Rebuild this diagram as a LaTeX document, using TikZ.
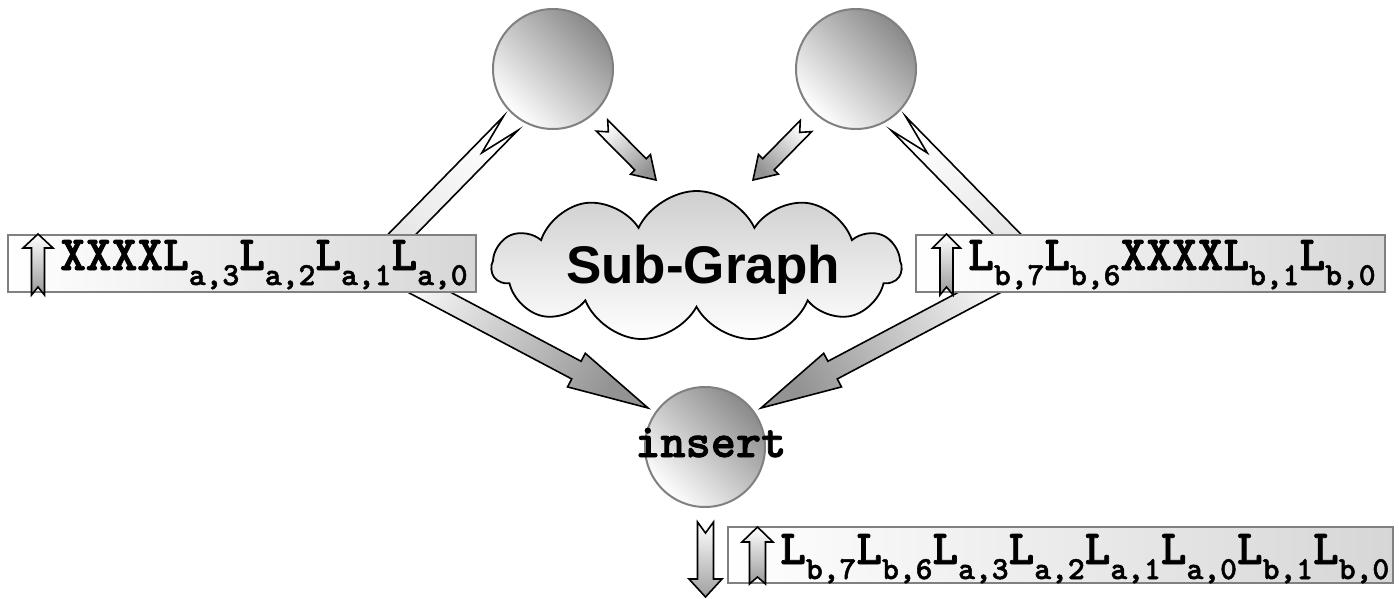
\documentclass[tikz,border=0pt]{standalone}
\usepackage{fontspec}
\newfontfamily\cour{lmmonolt10-bold.otf}[FakeBold=1.6]
\newfontfamily\helv{Liberation Sans}
\usetikzlibrary{shapes.symbols,calc}

\definecolor{rimgray}{HTML}{808080}
\definecolor{deepgray}{HTML}{8A8A8A}

% subscript of a register label
\newcommand\sbx[1]{\raisebox{-15pt}{\fontsize{32}{32}\selectfont #1}}

% notched block arrow with a head:
% #1 tail, #2 tip, #3 half shaft, #4 half head, #5 head length, #6 notch depth,
% #7 tail colour, #8 head colour, #9 shading angle
\newcommand\blockarrow[9]{%
  \coordinate (hb) at ($(#2)!#5!(#1)$);
  \path[arrowline, left color=#7, right color=#8, shading angle=#9]
    ($(#1)!#3!90:(#2)$) -- ($(hb)!#3!90:(#2)$) -- ($(hb)!#4!90:(#2)$) -- (#2)
    -- ($(hb)!#4!-90:(#2)$) -- ($(hb)!#3!-90:(#2)$) -- ($(#1)!#3!-90:(#2)$)
    -- ($(#1)!#6!(#2)$) -- cycle;}

% notched bar without a head: #1 tail, #2 end, #3 half width, #4 notch depth,
% #5 tail colour, #6 end colour, #7 shading angle
\newcommand\notchbar[7]{%
  \path[arrowline, left color=#5, right color=#6, shading angle=#7]
    ($(#1)!#3!90:(#2)$) -- ($(#2)!#3!-90:(#1)$) -- ($(#2)!#3!90:(#1)$)
    -- ($(#1)!#3!-90:(#2)$) -- ($(#1)!#4!(#2)$) -- cycle;}

\begin{document}
\begin{tikzpicture}[x=1pt, y=1pt,
  arrowline/.style={draw=black, line width=1.6pt, line join=miter},
  sphere/.style={circle, draw=rimgray, line width=2pt, minimum size=120pt,
    inner sep=0pt, left color=white, right color=deepgray, shading angle=135},
  regbox/.style={rectangle, draw=rimgray, line width=2pt, inner sep=0pt,
    left color=white, right color=gray!32, minimum height=57pt},
  regtext/.style={anchor=base west, inner sep=0pt, font=\cour\fontsize{49}{49}\selectfont},
  subcloud/.style={cloud, draw=black, line width=1.8pt, cloud puffs=11,
    cloud puff arc=130, aspect=2.7, inner sep=0pt, minimum width=409pt,
    minimum height=151pt, top color=gray!38, bottom color=white}]
\useasboundingbox (0,0) rectangle (1399,598);

% anchor points of the connectors
\coordinate (ta) at (510.5,474.5);
\coordinate (ba) at (374,335);
\coordinate (ha) at (648,190);
\coordinate (tb) at (898.5,474.5);
\coordinate (bb) at (1035,335);
\coordinate (hbx) at (761,190);
\coordinate (sa) at (602,472.5);
\coordinate (sah) at (656,418);
\coordinate (sb) at (806,472);
\coordinate (sbh) at (753,418);
\coordinate (dt) at (705.5,76);
\coordinate (dh) at (705.5,1);

% long arrows from the top nodes, bent behind the registers, into insert
\notchbar{ta}{ba}{10pt}{41pt}{white}{gray!22}{-44.4}
\blockarrow{ba}{ha}{10pt}{19pt}{81pt}{0pt}{white}{gray!85}{62.1}
\notchbar{tb}{bb}{10pt}{41pt}{white}{gray!22}{44.4}
\blockarrow{bb}{hbx}{10pt}{19pt}{81pt}{0pt}{white}{gray!85}{-62.1}

% short arrows into the sub-graph
\blockarrow{sa}{sah}{8pt}{14pt}{22pt}{9pt}{white}{gray!85}{45}
\blockarrow{sb}{sbh}{8pt}{14pt}{22pt}{9pt}{white}{gray!85}{-45}

% output arrow of insert
\blockarrow{dt}{dh}{8pt}{16.5pt}{18pt}{11pt}{white}{gray!75}{0}

% registers
\node[regbox, minimum width=468pt] (bl) at (242,334.5) {};
\node[regbox, minimum width=469pt] (br) at (1150.5,334.5) {};
\node[regbox, minimum width=665pt, minimum height=56pt] (bo) at (1060.5,43) {};

% shift-direction arrows inside the registers
\coordinate (ula) at (38,303);   \coordinate (ulb) at (38,364);
\coordinate (ura) at (946.5,303); \coordinate (urb) at (946.5,364);
\coordinate (uba) at (757.5,14); \coordinate (ubb) at (757.5,71);
\blockarrow{ula}{ulb}{6.5pt}{15pt}{14pt}{8pt}{gray!80}{white}{180}
\blockarrow{ura}{urb}{6.5pt}{14pt}{14pt}{8pt}{gray!80}{white}{180}
\blockarrow{uba}{ubb}{8pt}{15.5pt}{15pt}{7pt}{gray!80}{white}{180}

% register contents
\node[regtext] (tl) at (60,328) {XXXXL\sbx{a,3}L\sbx{a,2}L\sbx{a,1}L\sbx{a,0}};
\node[regtext] (tr) at (968,328) {L\sbx{b,7}L\sbx{b,6}XXXXL\sbx{b,1}L\sbx{b,0}};
\node[regtext] (tbo) at (780,34) {L\sbx{b,7}L\sbx{b,6}L\sbx{a,3}L\sbx{a,2}L\sbx{a,1}L\sbx{a,0}L\sbx{b,1}L\sbx{b,0}};

% nodes
\node[sphere] (c1) at (553,529) {};
\node[sphere] (c2) at (856,529) {};
\node[sphere] (ins) at (705,151) {};
\node[subcloud] (sg) at (696.5,331.5) {};

\node[anchor=base west, inner sep=0pt, font=\helv\bfseries\fontsize{53}{53}\selectfont] (sgt) at (566,315) {Sub-Graph};
\node[anchor=base west, inner sep=0pt, font=\cour\fontsize{48}{48}\selectfont] (inst) at (635,141) {insert};
\end{tikzpicture}
\end{document}
